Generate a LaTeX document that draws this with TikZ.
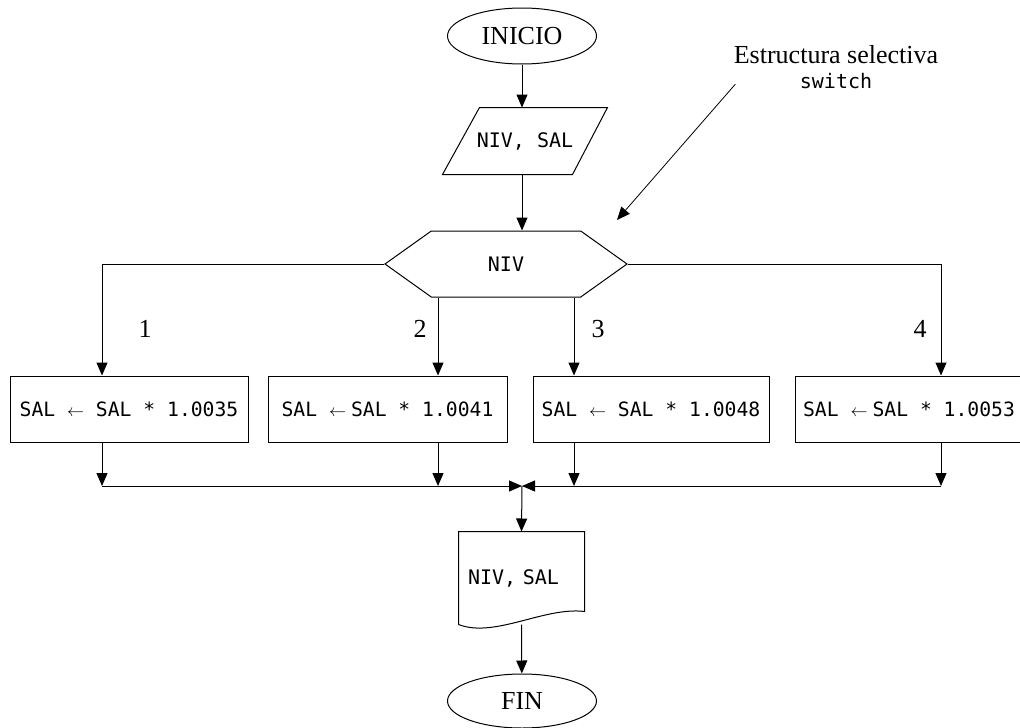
\documentclass[tikz,border=0pt]{standalone}
\usepackage{fontspec}
\usepackage{graphicx}
\setmainfont{Liberation Serif}
\setmonofont{DejaVu Sans Mono}
\newcommand\flecha{\resizebox{17pt}{!}{$\leftarrow$}}
\usetikzlibrary{arrows.meta,shapes.geometric,shapes.symbols}

\begin{document}
\begin{tikzpicture}[x=1pt,y=-1pt,
    line width=1pt,
    flow/.style={-{Triangle[length=13pt,width=11pt]}},
    term/.style={draw,ellipse,minimum width=149pt,minimum height=56pt,inner sep=0pt,
        font=\fontsize{26}{30}\selectfont},
    inout/.style={minimum height=66pt,minimum width=164pt,inner sep=0pt,
        font=\ttfamily\fontsize{20}{24}\selectfont},
    dec/.style={draw,signal,signal to=west and east,signal pointer angle=71,
        minimum width=242pt,minimum height=66pt,inner sep=0pt,
        font=\ttfamily\fontsize{20}{24}\selectfont},
    proc/.style={draw,rectangle,minimum height=66pt,inner sep=0pt,
        font=\ttfamily\fontsize{19.7}{24}\selectfont},
    doc/.style={minimum width=125pt,minimum height=92pt,inner xsep=9pt,
        text width=107pt,align=left,font=\ttfamily\fontsize{20}{24}\selectfont},
    num/.style={font=\fontsize{26}{30}\selectfont},
    nota/.style={align=center,inner sep=0pt,font=\fontsize{26}{25}\selectfont}]

\useasboundingbox (0,0) rectangle (1020,728);

\node[term] (inicio) at (522,36) {INICIO};
\node[inout] (leer) at (525,141) {NIV, SAL};
\node[dec] (sel) at (506,264) {NIV};

\node[proc,minimum width=238pt] (c1) at (129,409) {SAL \flecha{} SAL * 1.0035};
\node[proc,minimum width=239pt] (c2) at (387.5,409) {SAL \flecha{}\hspace{5pt}SAL * 1.0041};
\node[proc,minimum width=236pt] (c3) at (651,409) {SAL \flecha{} SAL * 1.0048};
\node[proc,minimum width=238pt] (c4) at (914,409) {SAL \flecha{}\hspace{5pt}SAL * 1.0053\hspace*{10pt}};

\node[num] (n1) at (145,329) {1};
\node[num] (n2) at (420,329) {2};
\node[num] (n3) at (598,329) {3};
\node[num] (n4) at (920,329) {4};

\coordinate (junta) at (522,486);
\node[doc] (salida) at (521.5,578) {NIV, SAL};
\node[term,minimum height=54pt] (fin) at (522,701) {FIN};

\node[nota] (nota) at (836,67) {Estructura selectiva\\{\ttfamily\fontsize{20}{24}\selectfont switch}};
\coordinate (punta) at (617,220);

% entrada y hoja de salida
\draw (leer.south west) -- ([xshift=-35pt]leer.south east) -- (leer.north east)
    -- ([xshift=37pt]leer.north west) -- cycle;
\draw (salida.south west) -- (salida.north west) -- (salida.north east)
    -- ([yshift=13pt]salida.south east)
    .. controls ([xshift=-40pt,yshift=18pt]salida.south east)
    and ([xshift=36pt,yshift=-14pt]salida.south west) .. (salida.south west);

\draw[flow] (inicio) -- (inicio |- leer.north);
\draw[flow] (inicio |- leer.south) -- (inicio |- sel.north);

% casos
\draw[flow] (sel.west) -| ([xshift=-27pt]c1.north);
\draw[flow] ([xshift=-68pt]sel.south) -- ([xshift=-68pt]sel.south |- c2.north);
\draw[flow] ([xshift=68pt]sel.south) -- ([xshift=68pt]sel.south |- c3.north);
\draw[flow] (sel.east) -| ([xshift=27pt]c4.north);

% union
\draw[flow] ([xshift=-27pt]c1.south) -- ([xshift=-27pt]c1.south |- junta);
\draw[flow] ([xshift=50.5pt]c2.south) -- ([xshift=50.5pt]c2.south |- junta);
\draw[flow] ([xshift=-77pt]c3.south) -- ([xshift=-77pt]c3.south |- junta);
\draw[flow] ([xshift=27pt]c4.south) -- ([xshift=27pt]c4.south |- junta);
\draw[flow] ([xshift=-27pt]c1.south |- junta) -- (junta);
\draw[flow] ([xshift=27pt]c4.south |- junta) -- (junta);

\draw[flow] (junta) -- (salida.north);
\draw[flow] (salida.south) -- (fin);

\draw[flow,line width=0.8pt] ([xshift=2pt,yshift=5pt]nota.south west) -- (punta);

\end{tikzpicture}
\end{document}
